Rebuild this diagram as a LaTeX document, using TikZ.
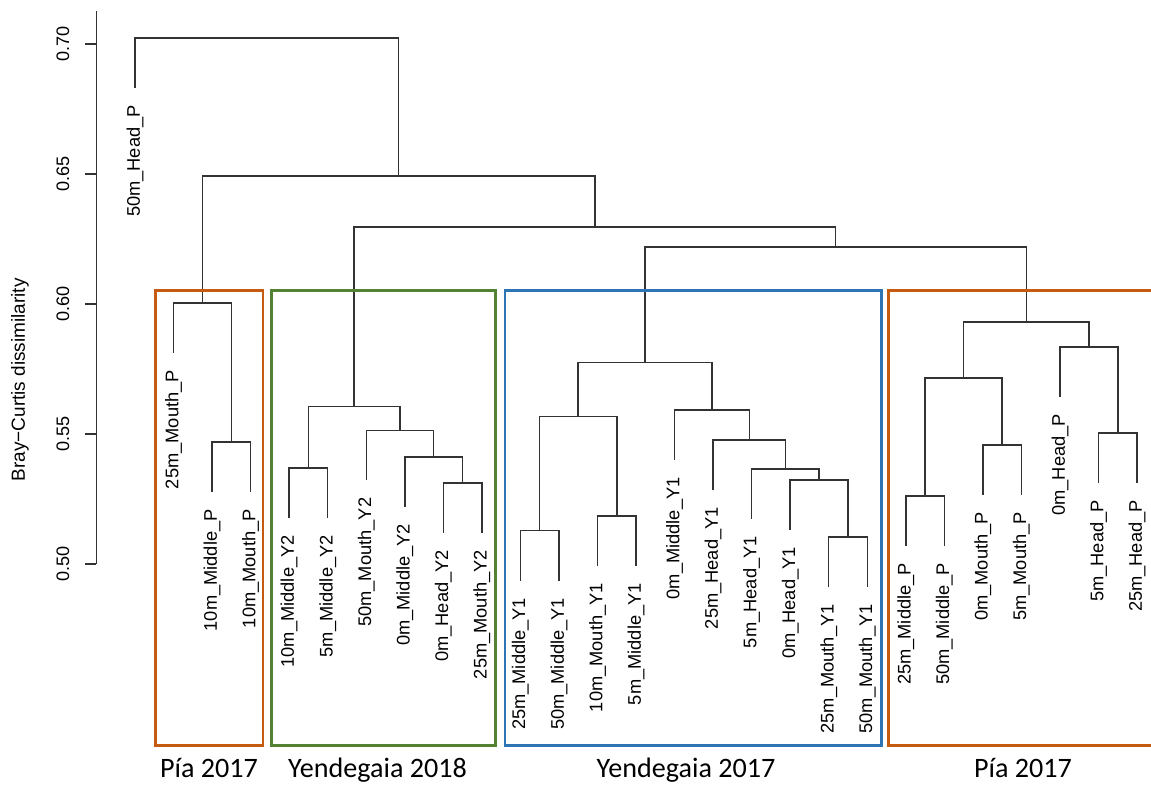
\documentclass[tikz,border=0pt]{standalone}
\usepackage{fontspec}
\setmainfont{Liberation Sans}
\newfontfamily\grpfont{Carlito}
\usepackage{xcolor}
\usepackage{tikz}
\usetikzlibrary{calc}
\definecolor{piaorange}{HTML}{C55A11}
\definecolor{yengreen}{HTML}{548235}
\definecolor{yenblue}{HTML}{2E75B6}

\begin{document}
\begin{tikzpicture}[x=0.7708cm,y=52cm,
		branch/.style={line width=0.85pt,black!80},
		leaf/.style={rotate=90,anchor=east,inner sep=0pt,font=\fontsize{10.4}{12}\selectfont},
		ticklab/.style={rotate=90,font=\fontsize{10.3}{12}\selectfont},
		groupbox/.style={line width=1.7pt},
		grouplab/.style={anchor=base,font=\grpfont\fontsize{16}{19}\selectfont}]
		\useasboundingbox (-2.503,0.415) rectangle (27.362,0.7169);
		\draw[branch] (0,0.50) coordinate(ybot) -- (0,0.7127) coordinate(ytop);
		\foreach \v in {0.50,0.55,0.60,0.65,0.70}{
			\draw[branch] (0,\v) -- (-0.285,\v);
			\node[ticklab] (tick\v) at (-0.868,\v) {\v};
		}
		\node[ticklab,font=\fontsize{10.8}{12}\selectfont] (ylab) at (-1.984,0.5708) {Bray−Curtis dissimilarity};
		\foreach \i/\h/\lab in {1/0.6831/50m\_Head\_P, 2/0.5812/25m\_Mouth\_P, 3/0.5277/10m\_Middle\_P, 4/0.5277/10m\_Mouth\_P,
			5/0.5177/10m\_Middle\_Y2, 6/0.5177/5m\_Middle\_Y2, 7/0.5321/50m\_Mouth\_Y2, 8/0.5220/0m\_Middle\_Y2,
			9/0.5120/0m\_Head\_Y2, 10/0.5120/25m\_Mouth\_Y2, 11/0.4936/25m\_Middle\_Y1, 12/0.4936/50m\_Middle\_Y1,
			13/0.4993/10m\_Mouth\_Y1, 14/0.4993/5m\_Middle\_Y1, 15/0.5400/0m\_Middle\_Y1, 16/0.5285/25m\_Head\_Y1,
			17/0.5173/5m\_Head\_Y1, 18/0.5131/0m\_Head\_Y1, 19/0.4911/25m\_Mouth\_Y1, 20/0.4911/50m\_Mouth\_Y1,
			21/0.5070/25m\_Middle\_P, 22/0.5070/50m\_Middle\_P, 23/0.5266/0m\_Mouth\_P, 24/0.5266/5m\_Mouth\_P,
			25/0.5643/0m\_Head\_P, 26/0.5312/5m\_Head\_P, 27/0.5312/25m\_Head\_P}{
			\coordinate (l\i) at (\i,\h);
			\node[leaf] (t\i) at ([yshift=-0.34cm]l\i) {\lab};
		}
		\coordinate (p1) at (3.5,0.5469);
		\coordinate (p2) at (2.75,0.6004);
		\coordinate (g1) at (5.5,0.5369);
		\coordinate (g2) at (9.5,0.5312);
		\coordinate (g3) at (8.75,0.5412);
		\coordinate (g4) at (7.875,0.5513);
		\coordinate (g5) at (6.6875,0.5605);
		\coordinate (b1) at (11.5,0.5128);
		\coordinate (b2) at (13.5,0.5185);
		\coordinate (b3) at (12.5,0.5567);
		\coordinate (b4) at (19.5,0.5103);
		\coordinate (b5) at (18.75,0.5323);
		\coordinate (b6) at (17.875,0.5365);
		\coordinate (b7) at (16.9375,0.5477);
		\coordinate (b8) at (15.96875,0.5592);
		\coordinate (b9) at (14.234,0.5774);
		\coordinate (r1) at (21.5,0.5262);
		\coordinate (r2) at (23.5,0.5458);
		\coordinate (r3) at (22.5,0.5715);
		\coordinate (r4) at (26.5,0.5504);
		\coordinate (r5) at (25.75,0.5835);
		\coordinate (r6) at (24.125,0.5931);
		\coordinate (u1) at (19.18,0.6219);
		\coordinate (u2) at (12.934,0.6296);
		\coordinate (u3) at (7.842,0.6492);
		\coordinate (root) at (4.421,0.7023);
		\draw[branch] (l3) |- (p1) -| (l4);
		\draw[branch] (l2) |- (p2) -| (p1);
		\draw[branch] (l5) |- (g1) -| (l6);
		\draw[branch] (l9) |- (g2) -| (l10);
		\draw[branch] (l8) |- (g3) -| (g2);
		\draw[branch] (l7) |- (g4) -| (g3);
		\draw[branch] (g1) |- (g5) -| (g4);
		\draw[branch] (l11) |- (b1) -| (l12);
		\draw[branch] (l13) |- (b2) -| (l14);
		\draw[branch] (b1) |- (b3) -| (b2);
		\draw[branch] (l19) |- (b4) -| (l20);
		\draw[branch] (l18) |- (b5) -| (b4);
		\draw[branch] (l17) |- (b6) -| (b5);
		\draw[branch] (l16) |- (b7) -| (b6);
		\draw[branch] (l15) |- (b8) -| (b7);
		\draw[branch] (b3) |- (b9) -| (b8);
		\draw[branch] (l21) |- (r1) -| (l22);
		\draw[branch] (l23) |- (r2) -| (l24);
		\draw[branch] (r1) |- (r3) -| (r2);
		\draw[branch] (l26) |- (r4) -| (l27);
		\draw[branch] (l25) |- (r5) -| (r4);
		\draw[branch] (r3) |- (r6) -| (r5);
		\draw[branch] (b9) |- (u1) -| (r6);
		\draw[branch] (g5) |- (u2) -| (u1);
		\draw[branch] (p2) |- (u3) -| (u2);
		\draw[branch] (l1) |- (root) -| (u3);
		\draw[groupbox,piaorange] (1.519,0.430) rectangle (4.321,0.605);
		\draw[groupbox,yengreen] (4.529,0.430) rectangle (10.341,0.605);
		\draw[groupbox,yenblue] (10.600,0.430) rectangle (20.357,0.605);
		\draw[groupbox,piaorange] (28,0.605) -- (20.54,0.605) -- (20.54,0.430) -- (28,0.430);
		\node[grouplab] (pia1) at (2.92,0.4177) {Pía 2017};
		\node[grouplab] (yen18) at (7.292,0.4177) {Yendegaia 2018};
		\node[grouplab] (yen17) at (15.297,0.4177) {Yendegaia 2017};
		\node[grouplab] (pia2) at (24.04,0.4177) {Pía 2017};
\end{tikzpicture}
\end{document}
